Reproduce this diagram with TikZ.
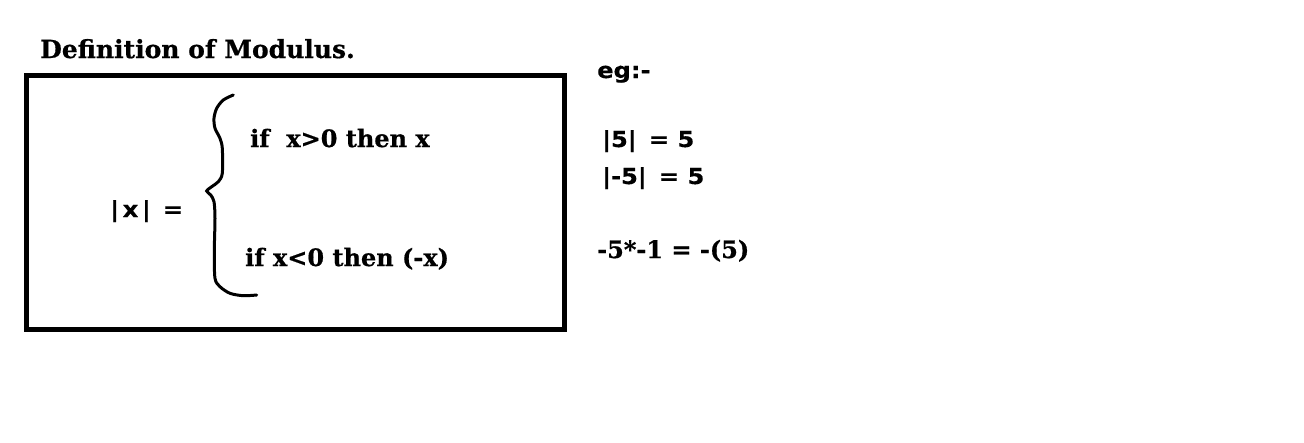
\documentclass[tikz,border=0pt]{standalone}
\usepackage{fontspec}
\setmainfont{DejaVu Serif}[BoldFeatures={FakeBold=0.6}]
\setsansfont{DejaVu Sans}[BoldFeatures={FakeStretch=1.1,FakeBold=0.4}]
\begin{document}
\begin{tikzpicture}[x=1pt,y=-1pt,
		serif text/.style={anchor=base west,inner sep=0pt,font=\fontsize{24}{28}\selectfont\bfseries},
		sans text/.style={anchor=base west,inner sep=0pt,font=\fontsize{22}{26}\selectfont\sffamily\bfseries}]
			\useasboundingbox (0,0) rectangle (1304,442);
			\node[serif text,font=\fontsize{25}{30}\selectfont\bfseries] (title) at (40,58) {Definition of Modulus.};
			\draw[line width=5pt] (26.5,75) rectangle (564,329);
			\node[sans text] (absx) at (110,217) {|\,x\,|\ \,=};
			\draw[line width=3pt,line cap=round] plot[smooth] coordinates {(233.3,95) (223.3,100) (216.7,108.3) (214,118.3) (215,128.3) (220,138.3) (222.3,148.3) (222.3,173.3) (218.3,181.7) (211.7,186.7) (206.7,191) (210.7,195) (214,201.7) (215,218.3) (214.3,251.7) (215,278.3) (220,286.7) (230,293.3) (243.3,295.7) (256.7,295)};
			\node[serif text] (pos) at (250,147) {if\ \ x>0 then x};
			\node[serif text] (neg) at (245,266) {if x<0 then (-x)};
			\node[sans text] (eg) at (597,78) {eg:-};
			\node[sans text] (five) at (602,147) {|5|\,\ = 5};
			\node[sans text] (mfive) at (602,184) {|-5|\,\ = 5};
			\node[serif text] (prod) at (597,258) {-5*-1 = -(5)};
		\end{tikzpicture}
\end{document}
